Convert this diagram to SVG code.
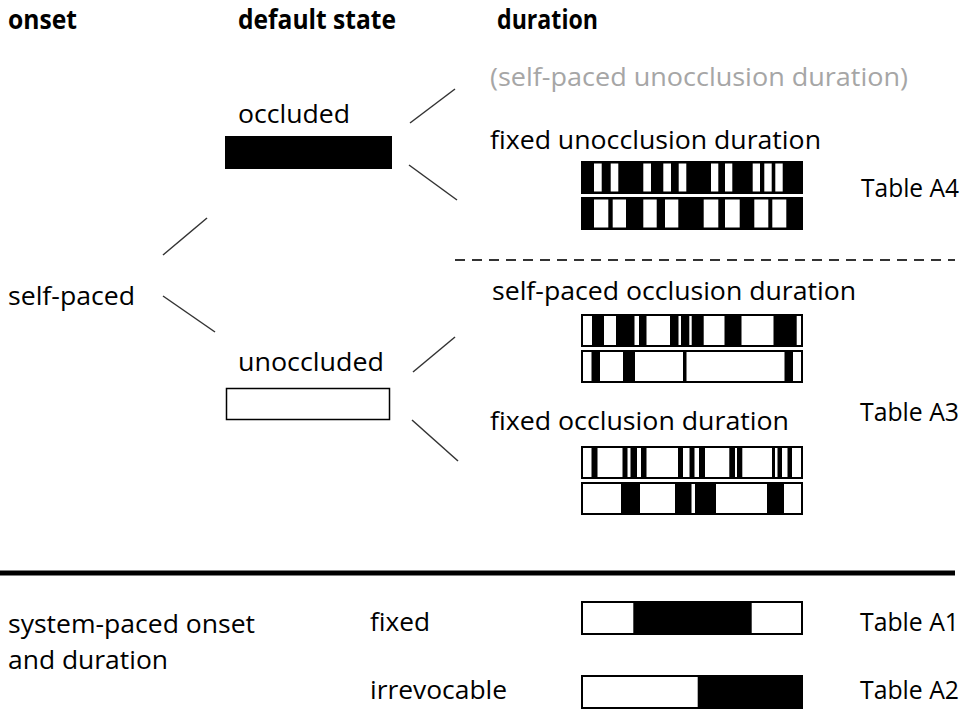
<svg xmlns="http://www.w3.org/2000/svg" width="978" height="716" viewBox="0 0 978 716">
<style>
text{font-family:"Open Sans","Noto Sans","DejaVu Sans",sans-serif;font-size:25px;fill:#000}
.h{font-weight:bold;font-size:26px}
.g{fill:#a6a6a6}
.blk{fill:#000}
.wht{fill:#fff}
.wb{fill:#fff;stroke:#000;stroke-width:2}
.conn line{stroke:#333;stroke-width:1.5}
</style>
<rect width="978" height="716" fill="#fff"/>
<g id="headers">
<text class="h" x="8" y="29" textLength="69" lengthAdjust="spacingAndGlyphs">onset</text>
<text class="h" x="238" y="29" textLength="158" lengthAdjust="spacingAndGlyphs">default state</text>
<text class="h" x="497" y="29" textLength="101" lengthAdjust="spacingAndGlyphs">duration</text>
</g>
<g id="self-paced">
<text x="8" y="305" textLength="127" lengthAdjust="spacingAndGlyphs">self-paced</text>
</g>
<g id="occluded">
<text x="238" y="123" textLength="112" lengthAdjust="spacingAndGlyphs">occluded</text>
<rect class="blk" x="225" y="136" width="167" height="33"/>
</g>
<g id="unoccluded">
<text x="238" y="371" textLength="146" lengthAdjust="spacingAndGlyphs">unoccluded</text>
<rect x="226.5" y="388.5" width="163" height="31" fill="#fff" stroke="#000" stroke-width="1.5"/>
</g>
<g id="self-paced-unocclusion">
<text class="g" x="490" y="86" textLength="418" lengthAdjust="spacingAndGlyphs">(self-paced unocclusion duration)</text>
</g>
<g id="fixed-unocclusion">
<text x="490" y="149" textLength="331" lengthAdjust="spacingAndGlyphs">fixed unocclusion duration</text>
<rect class="blk" x="581" y="161" width="222" height="33"/>
<g class="wht">
<rect x="594" y="163.5" width="7.7" height="28"/>
<rect x="610.7" y="163.5" width="7.6" height="28"/>
<rect x="643.3" y="163.5" width="7.7" height="28"/>
<rect x="663.3" y="163.5" width="7.7" height="28"/>
<rect x="678.7" y="163.5" width="7.6" height="28"/>
<rect x="711" y="163.5" width="7.3" height="28"/>
<rect x="725" y="163.5" width="7.3" height="28"/>
<rect x="752.7" y="163.5" width="7.3" height="28"/>
<rect x="764.3" y="163.5" width="7.4" height="28"/>
<rect x="775.3" y="163.5" width="7.4" height="28"/>
</g>
<rect class="blk" x="581" y="197" width="222" height="33"/>
<g class="wht">
<rect x="594" y="199.5" width="14.3" height="28"/>
<rect x="612.7" y="199.5" width="13.3" height="28"/>
<rect x="643.3" y="199.5" width="13.4" height="28"/>
<rect x="665" y="199.5" width="13.3" height="28"/>
<rect x="703.7" y="199.5" width="14.6" height="28"/>
<rect x="725" y="199.5" width="14.7" height="28"/>
<rect x="754.3" y="199.5" width="14" height="28"/>
<rect x="772.3" y="199.5" width="14" height="28"/>
</g>
</g>
<g id="table-a4">
<text x="861" y="197" textLength="98" lengthAdjust="spacingAndGlyphs">Table A4</text>
</g>
<g id="self-paced-occlusion">
<text x="492" y="300" textLength="364" lengthAdjust="spacingAndGlyphs">self-paced occlusion duration</text>
<rect class="wb" x="582" y="315" width="220" height="31"/>
<g class="blk">
<rect x="592" y="314" width="12" height="33"/>
<rect x="616" y="314" width="18.5" height="33"/>
<rect x="639" y="314" width="7.5" height="33"/>
<rect x="670" y="314" width="8.5" height="33"/>
<rect x="681" y="314" width="8.3" height="33"/>
<rect x="691.7" y="314" width="12" height="33"/>
<rect x="724.5" y="314" width="17" height="33"/>
<rect x="773.5" y="314" width="23.2" height="33"/>
</g>
<rect class="wb" x="582" y="351" width="220" height="31"/>
<g class="blk">
<rect x="591.5" y="350" width="8.5" height="33"/>
<rect x="623" y="350" width="12" height="33"/>
<rect x="683" y="350" width="3.5" height="33"/>
<rect x="784.5" y="350" width="8.5" height="33"/>
</g>
</g>
<g id="fixed-occlusion">
<text x="490" y="430" textLength="299" lengthAdjust="spacingAndGlyphs">fixed occlusion duration</text>
<rect class="wb" x="582" y="447" width="220" height="31"/>
<g class="blk">
<rect x="591.5" y="446" width="6" height="33"/>
<rect x="622.5" y="446" width="5" height="33"/>
<rect x="630.5" y="446" width="6.5" height="33"/>
<rect x="641" y="446" width="5.5" height="33"/>
<rect x="678" y="446" width="5" height="33"/>
<rect x="689.5" y="446" width="5" height="33"/>
<rect x="699" y="446" width="6" height="33"/>
<rect x="729.3" y="446" width="5.7" height="33"/>
<rect x="737" y="446" width="5.3" height="33"/>
<rect x="772" y="446" width="3" height="33"/>
<rect x="777.5" y="446" width="4.5" height="33"/>
<rect x="787.5" y="446" width="4.5" height="33"/>
</g>
<rect class="wb" x="582" y="483" width="220" height="31"/>
<g class="blk">
<rect x="621" y="482" width="19" height="33"/>
<rect x="675" y="482" width="16.5" height="33"/>
<rect x="695" y="482" width="21" height="33"/>
<rect x="767" y="482" width="17" height="33"/>
</g>
</g>
<g id="table-a3">
<text x="860" y="421" textLength="99" lengthAdjust="spacingAndGlyphs">Table A3</text>
</g>
<g id="separator">
<line x1="455" y1="260" x2="955" y2="260" stroke="#333" stroke-width="2" stroke-dasharray="10,7"/>
<line x1="0" y1="573" x2="955" y2="573" stroke="#000" stroke-width="5"/>
</g>
<g id="system-paced">
<text x="8" y="633" textLength="247" lengthAdjust="spacingAndGlyphs">system-paced onset</text>
<text x="8" y="669" textLength="160" lengthAdjust="spacingAndGlyphs">and duration</text>
</g>
<g id="fixed">
<text x="370" y="631" textLength="60" lengthAdjust="spacingAndGlyphs">fixed</text>
<rect class="wb" x="582" y="602" width="220" height="32"/>
<rect class="blk" x="633.3" y="601" width="118.4" height="34"/>
</g>
<g id="table-a1">
<text x="860" y="631" textLength="99" lengthAdjust="spacingAndGlyphs">Table A1</text>
</g>
<g id="irrevocable">
<text x="370" y="699" textLength="137" lengthAdjust="spacingAndGlyphs">irrevocable</text>
<rect class="wb" x="582" y="676" width="220" height="32"/>
<rect class="blk" x="697.7" y="675" width="105.3" height="34"/>
</g>
<g id="table-a2">
<text x="860" y="699" textLength="99" lengthAdjust="spacingAndGlyphs">Table A2</text>
</g>
<g id="connectors" class="conn">
<line x1="163" y1="255" x2="207" y2="218"/>
<line x1="163" y1="296" x2="215" y2="332"/>
<line x1="410" y1="123" x2="455" y2="89"/>
<line x1="409" y1="165" x2="457" y2="200"/>
<line x1="413" y1="372" x2="455" y2="337"/>
<line x1="412" y1="420" x2="458" y2="461"/>
</g>
</svg>
